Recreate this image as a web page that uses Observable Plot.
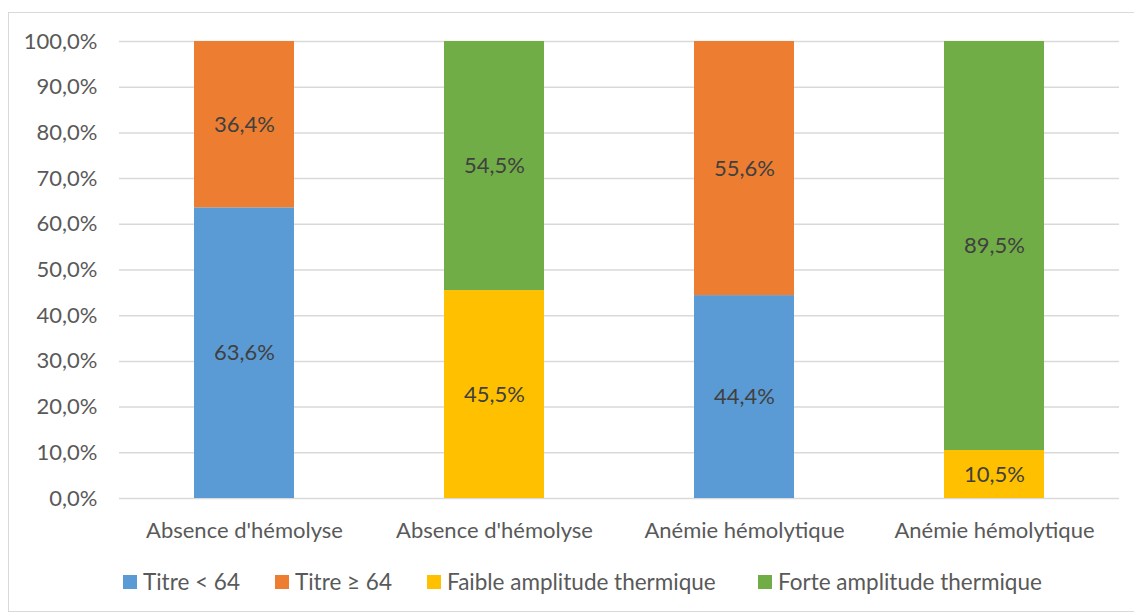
<!DOCTYPE html>
<html>
<head>
<meta charset="utf-8">
<script src="https://cdn.jsdelivr.net/npm/d3@7"></script>
<script src="https://cdn.jsdelivr.net/npm/@observablehq/plot@0.6"></script>
<style>
  body { margin: 0; background: #fff; }
  #wrap { position: relative; width: 1134px; height: 615px; overflow: hidden; font-family: Lato, "Open Sans", sans-serif; }
  #frame { position: absolute; left: 8px; top: 12px; width: 1140px; height: 600px; border: 1px solid #d9d9d9; box-sizing: border-box; pointer-events: none; }
  #chart { position: absolute; left: 0; top: 0; }
  #legend { position: absolute; top: 570px; left: 0; width: 1134px; height: 24px; }
  .item { position: absolute; top: 0; display: flex; align-items: center; font-size: 22.5px; color: #595959; white-space: nowrap; line-height: 24px; }
  .sw { width: 14px; height: 14px; margin-right: 6px; }
</style>
</head>
<body>
<div id="wrap">
  <div id="chart"></div>
  <div id="legend"></div>
  <div id="frame"></div>
</div>
<script>
const categories = ["Absence d'hémolyse", "Absence d'hémolyse", "Anémie hémolytique", "Anémie hémolytique"];
const seriesNames = ["Titre < 64", "Titre ≥ 64", "Faible amplitude thermique", "Forte amplitude thermique"];
const seriesColors = ["#5B9BD5", "#ED7D31", "#FFC000", "#70AD47"];
const titreLow  = [63.6, null, 44.4, null];
const titreHigh = [36.4, null, 55.6, null];
const faible    = [null, 45.5, null, 10.5];
const forte     = [null, 54.5, null, 89.5];
const yTicks = [0, 10, 20, 30, 40, 50, 60, 70, 80, 90, 100];

const seriesValues = [titreLow, titreHigh, faible, forte];
const rows = [];
seriesValues.forEach((vals, si) => {
  vals.forEach((v, ci) => {
    if (v != null) rows.push({x: ci, series: seriesNames[si], value: v});
  });
});

const fmt = v => v.toFixed(1).replace(".", ",") + "%";

const chart = Plot.plot({
  width: 1134,
  height: 545,
  marginTop: 41,
  marginBottom: 47,
  marginLeft: 119,
  marginRight: 15,
  style: { fontFamily: "Lato, 'Open Sans', sans-serif", fontSize: "22px", color: "#595959", background: "transparent" },
  x: { domain: [0, 1, 2, 3], paddingInner: 0.6, paddingOuter: 0.3, tickFormat: i => categories[i], tickSize: 0, tickPadding: 24, label: null },
  y: { domain: [0, 100], ticks: yTicks, tickFormat: fmt, tickSize: 0, tickPadding: 22, label: null },
  color: { domain: seriesNames, range: seriesColors },
  marks: [
    Plot.gridY(yTicks, { stroke: "#d9d9d9", strokeOpacity: 1, strokeWidth: 1.5 }),
    Plot.barY(rows, Plot.stackY({ x: "x", y: "value", z: "series", fill: "series", order: seriesNames })),
    Plot.text(rows, Plot.stackY({ x: "x", y: "value", z: "series", order: seriesNames, text: d => fmt(d.value), fill: "#404040", fontSize: 22 })),
    Plot.axisX({ tickSize: 0, tickPadding: 24, tickFormat: i => categories[i], fill: "#595959", fontSize: 22, label: null }),
    Plot.axisY({ ticks: yTicks, tickSize: 0, tickPadding: 22, tickFormat: fmt, fill: "#595959", fontSize: 22, label: null })
  ]
});
document.getElementById("chart").appendChild(chart);

const legendPos = [123, 275, 427, 758];
const legend = document.getElementById("legend");
seriesNames.forEach((name, i) => {
  const item = document.createElement("div");
  item.className = "item";
  item.style.left = legendPos[i] + "px";
  const sw = document.createElement("div");
  sw.className = "sw";
  sw.style.background = seriesColors[i];
  const t = document.createElement("span");
  t.textContent = name;
  item.appendChild(sw);
  item.appendChild(t);
  legend.appendChild(item);
});
</script>
</body>
</html>
